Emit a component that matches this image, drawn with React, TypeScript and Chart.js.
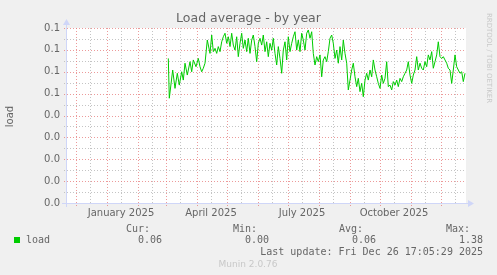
import React, { useEffect, useRef } from "react";
import { Chart, registerables } from "chart.js";
Chart.register(...registerables);

// day numbers counted from 1 January 2025
const days = [
  61.3, 62.3, 65.7, 68.0, 70.3, 72.3, 74.7, 76.3, 78.0, 80.3, 83.0, 84.7, 86.3, 89.0, 91.3, 93.0, 94.7, 96.3, 98.0,
  100.3, 103.0, 104.7, 106.3, 108.0, 109.7, 111.3, 113.0, 114.7, 116.3, 118.0, 119.7, 121.3, 123.0, 124.7, 126.3,
  128.0, 129.7, 131.3, 133.0, 134.7, 136.3, 138.0, 139.7, 141.3, 143.0, 144.7, 146.3, 148.0, 149.7, 151.3, 153.0,
  154.7, 156.3, 158.0, 159.7, 161.3, 163.0, 164.7, 166.3, 168.0, 169.7, 171.3, 173.0, 174.7, 176.3, 178.0, 179.7,
  181.3, 183.0, 184.7, 186.3, 188.0, 189.7, 191.3,
  193.0, 194.7, 196.3, 198.0, 199.7, 201.3, 203.0, 204.7, 206.3, 208.0, 209.7, 211.3, 213.0, 214.7, 216.3, 218.0,
  219.7, 221.3, 223.0, 224.7, 226.3, 228.0, 229.7, 231.3, 233.0, 234.7, 236.3, 238.0, 239.7, 241.3, 243.0, 244.7,
  246.3, 248.0, 249.7, 251.3, 253.0, 254.7, 256.3, 258.0, 259.7, 261.3, 263.0, 264.7, 266.3, 268.0, 269.7, 271.3,
  273.0, 274.7, 276.3, 278.0, 279.7, 281.3, 283.0, 284.7, 286.3, 288.0, 289.7, 291.3, 293.0, 294.7, 296.3, 298.0,
  299.7, 301.3, 303.0, 304.7, 306.3, 308.0, 309.7, 311.3, 313.0, 314.7, 316.3, 318.0, 319.7, 321.3, 323.0, 324.7,
  326.3, 328.0, 329.7, 331.3, 333.0, 334.7, 336.3, 338.0, 339.7, 341.3, 343.0, 344.7, 346.3, 348.0, 349.7, 351.3,
  353.0, 354.7, 356.3, 358.0,
];
const loads = [
  0.0661, 0.0479, 0.0608, 0.0524, 0.0593, 0.0539, 0.0600, 0.0562, 0.0639, 0.0585, 0.0646, 0.0600, 0.0654, 0.0623,
  0.0661, 0.0623, 0.0600, 0.0616, 0.0639,
  0.0745, 0.0684, 0.0768, 0.0692, 0.0707, 0.0684, 0.0715, 0.0692, 0.0737, 0.0760, 0.0776, 0.0730, 0.0760, 0.0715,
  0.0776, 0.0722, 0.0699, 0.0760, 0.0669, 0.0730, 0.0776, 0.0707, 0.0745, 0.0692, 0.0753, 0.0684, 0.0745, 0.0768,
  0.0715, 0.0646, 0.0730, 0.0753, 0.0722, 0.0768, 0.0692, 0.0737, 0.0669, 0.0730, 0.0699, 0.0753, 0.0684, 0.0631,
  0.0715, 0.0661, 0.0593, 0.0699, 0.0737, 0.0654, 0.0760, 0.0692, 0.0730, 0.0760, 0.0783, 0.0699, 0.0745,
  0.0692, 0.0776, 0.0745, 0.0699, 0.0776, 0.0791, 0.0753, 0.0783, 0.0684, 0.0631, 0.0669, 0.0646, 0.0677, 0.0577,
  0.0654, 0.0669, 0.0646, 0.0692, 0.0753, 0.0768, 0.0730, 0.0661, 0.0699, 0.0639, 0.0715, 0.0654, 0.0745, 0.0684,
  0.0639, 0.0517, 0.0562, 0.0608, 0.0639, 0.0577, 0.0532, 0.0570, 0.0509, 0.0547, 0.0486, 0.0562, 0.0593, 0.0562,
  0.0608, 0.0577, 0.0654, 0.0608, 0.0577, 0.0547, 0.0524, 0.0585, 0.0547, 0.0570, 0.0646, 0.0532, 0.0539, 0.0517,
  0.0555, 0.0539, 0.0562, 0.0532, 0.0570, 0.0555, 0.0577, 0.0593, 0.0608, 0.0646, 0.0585, 0.0547, 0.0585, 0.0608,
  0.0669, 0.0608, 0.0639, 0.0616, 0.0608, 0.0646, 0.0623, 0.0677, 0.0654, 0.0692, 0.0616, 0.0646, 0.0677, 0.0737,
  0.0669, 0.0661, 0.0669, 0.0654, 0.0639, 0.0616, 0.0608, 0.0547, 0.0608, 0.0677, 0.0623, 0.0608, 0.0593, 0.0600,
  0.0555, 0.0593,
];

const xMin = -41; // 21 Nov 2024
const xMax = 359; // 26 Dec 2025
const yMajorTicks = [0, 0.01, 0.02, 0.03, 0.04, 0.05, 0.06, 0.07, 0.08];
const monthStarts = [-31, 0, 31, 59, 90, 120, 151, 181, 212, 243, 273, 304, 334];
const monthMids = [-17, 14, 45, 73, 104, 134, 165, 195, 226, 257, 287, 318, 348];
const xLabels = ["January 2025", "April 2025", "July 2025", "October 2025"];
const xLabelDays = [14, 104, 195, 287];

const title = "Load average - by year";
const yTitle = "load";
const seriesName = "load";
const legendHeads = ["Cur:", "Min:", "Avg:", "Max:"];
const legendValues = ["0.06", "0.00", "0.06", "1.38"];
const lastUpdate = "Last update: Fri Dec 26 17:05:29 2025";
const footer = "Munin 2.0.76";
const watermark = "RRDTOOL / TOBI OETIKER";

const SANS = "'DejaVu Sans', sans-serif";
const MONO = "'DejaVu Sans Mono', monospace";
const FONT_COLOR = "#666666";
const AXIS_COLOR = "#CFD6F8";
const MAJOR_GRID = "rgba(230,120,120,0.75)";
const MINOR_GRID = "rgba(190,190,190,0.9)";

const munin = {
  id: "munin",
  beforeDraw(chart: any) {
    const { ctx, chartArea: a, scales } = chart;
    const xs = scales.x;
    const ys = scales.y;
    ctx.save();
    ctx.fillStyle = "#F0F0F0";
    ctx.fillRect(0, 0, chart.width, chart.height);
    ctx.fillStyle = "#FFFFFF";
    ctx.fillRect(a.left, a.top, a.right - a.left, a.bottom - a.top);

    ctx.lineWidth = 1;
    ctx.setLineDash([1, 2]);
    // minor horizontal
    ctx.strokeStyle = MINOR_GRID;
    for (let i = 0; i < yMajorTicks.length - 1; i++) {
      const v = (yMajorTicks[i] + yMajorTicks[i + 1]) / 2;
      const y = Math.round(ys.getPixelForValue(v)) + 0.5;
      ctx.beginPath();
      ctx.moveTo(a.left - 2, y);
      ctx.lineTo(a.right, y);
      ctx.stroke();
    }
    // minor vertical
    for (const d of monthMids) {
      if (d <= xMin || d >= xMax) continue;
      const x = Math.round(xs.getPixelForValue(d)) + 0.5;
      ctx.beginPath();
      ctx.moveTo(x, a.top);
      ctx.lineTo(x, a.bottom + 2);
      ctx.stroke();
    }
    // major horizontal
    ctx.strokeStyle = MAJOR_GRID;
    for (const v of yMajorTicks) {
      const y = Math.round(ys.getPixelForValue(v)) + 0.5;
      ctx.beginPath();
      ctx.moveTo(a.left - 2, y);
      ctx.lineTo(a.right, y);
      ctx.stroke();
    }
    // major vertical
    for (const d of monthStarts) {
      if (d <= xMin || d >= xMax) continue;
      const x = Math.round(xs.getPixelForValue(d)) + 0.5;
      ctx.beginPath();
      ctx.moveTo(x, a.top);
      ctx.lineTo(x, a.bottom + 3);
      ctx.stroke();
    }
    ctx.setLineDash([]);

    // y tick labels
    ctx.fillStyle = FONT_COLOR;
    ctx.font = `10px ${SANS}`;
    ctx.textAlign = "right";
    ctx.textBaseline = "middle";
    for (const v of yMajorTicks) {
      ctx.fillText(v.toFixed(1), a.left - 6, ys.getPixelForValue(v));
    }
    // x labels
    ctx.textAlign = "center";
    xLabels.forEach((t, i) => {
      ctx.fillText(t, xs.getPixelForValue(xLabelDays[i]), a.bottom + 10);
    });

    // title
    ctx.font = `12.5px ${SANS}`;
    ctx.fillText(title, chart.width / 2, 19);

    // y title
    ctx.save();
    ctx.translate(10, (a.top + a.bottom) / 2 + 1);
    ctx.rotate(-Math.PI / 2);
    ctx.font = `10px ${SANS}`;
    ctx.fillText(yTitle, 0, 0);
    ctx.restore();

    // watermark
    ctx.save();
    ctx.translate(489, 58);
    ctx.rotate(Math.PI / 2);
    ctx.font = `7px ${SANS}`;
    ctx.fillStyle = "#C8C8C8";
    ctx.fillText(watermark, 0, 0);
    ctx.restore();

    // legend
    ctx.font = `10px ${MONO}`;
    ctx.fillStyle = FONT_COLOR;
    ctx.textAlign = "right";
    const headX = [150, 257, 363, 470];
    const valX = [162, 269, 376, 483];
    legendHeads.forEach((h, i) => ctx.fillText(h, headX[i], 229));
    legendValues.forEach((v, i) => ctx.fillText(v, valX[i], 240));
    ctx.fillText(lastUpdate, 483, 252);
    ctx.textAlign = "left";
    ctx.fillText(seriesName, 26, 240);
    ctx.fillStyle = "#00CC00";
    ctx.fillRect(14, 237, 6, 6);

    ctx.font = `9px ${SANS}`;
    ctx.fillStyle = "#C8C8C8";
    ctx.textAlign = "center";
    ctx.fillText(footer, 248, 265);
    ctx.restore();
  },
  afterDatasetsDraw(chart: any) {
    const { ctx, chartArea: a } = chart;
    ctx.save();
    ctx.strokeStyle = AXIS_COLOR;
    ctx.fillStyle = AXIS_COLOR;
    ctx.lineWidth = 1;
    // y axis
    ctx.beginPath();
    ctx.moveTo(a.left + 0.5, a.bottom + 4);
    ctx.lineTo(a.left + 0.5, a.top - 4);
    ctx.stroke();
    ctx.beginPath();
    ctx.moveTo(a.left - 3, a.top - 3);
    ctx.lineTo(a.left + 4, a.top - 3);
    ctx.lineTo(a.left + 0.5, a.top - 9);
    ctx.closePath();
    ctx.fill();
    // x axis
    ctx.beginPath();
    ctx.moveTo(a.left - 4, a.bottom + 0.5);
    ctx.lineTo(a.right + 2, a.bottom + 0.5);
    ctx.stroke();
    ctx.beginPath();
    ctx.moveTo(a.right + 2, a.bottom - 3);
    ctx.lineTo(a.right + 2, a.bottom + 4);
    ctx.lineTo(a.right + 8, a.bottom + 0.5);
    ctx.closePath();
    ctx.fill();
    ctx.restore();
  },
};

export default function App() {
  const ref = useRef<HTMLCanvasElement | null>(null);
  useEffect(() => {
    document.body.style.margin = "0";
    const canvas = ref.current;
    if (!canvas) return;
    const chart = new Chart(canvas, {
      type: "line",
      data: {
        datasets: [
          {
            label: seriesName,
            data: days.map((d, i) => ({ x: d, y: loads[i] })),
            borderColor: "#00CC00",
            borderWidth: 1,
            pointRadius: 0,
            tension: 0,
            fill: false,
          },
        ],
      },
      options: {
        responsive: false,
        animation: false,
        devicePixelRatio: 1,
        layout: { padding: { left: 66, right: 31, top: 28, bottom: 72 } },
        scales: {
          x: { type: "linear", min: xMin, max: xMax, display: false },
          y: { type: "linear", min: 0, max: 0.08, display: false },
        },
        plugins: { legend: { display: false }, tooltip: { enabled: false }, title: { display: false } },
      },
      plugins: [munin],
    });
    return () => chart.destroy();
  }, []);
  return <canvas ref={ref} width={497} height={275} style={{ display: "block" }} />;
}
